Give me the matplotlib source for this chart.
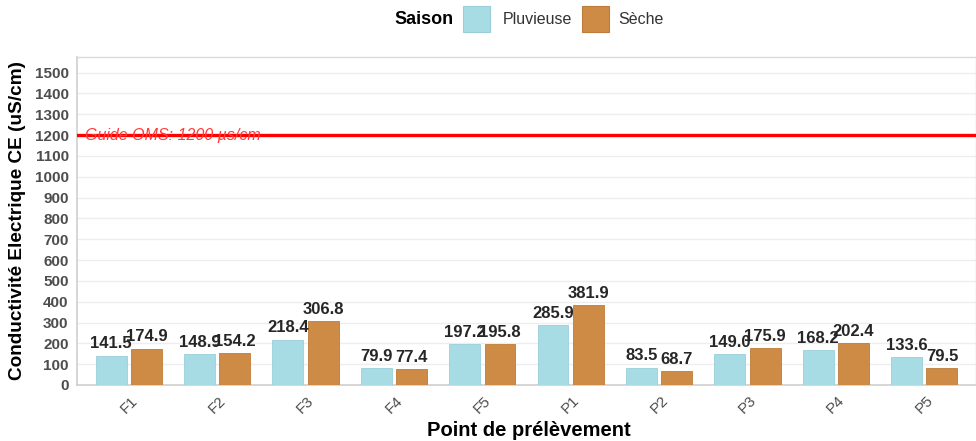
import matplotlib
matplotlib.use("Agg")
import matplotlib.pyplot as plt
import numpy as np
from matplotlib.patches import Rectangle

plt.rcParams['font.family'] = ['Liberation Sans', 'DejaVu Sans']

points = ["F1", "F2", "F3", "F4", "F5", "P1", "P2", "P3", "P4", "P5"]
pluvieuse = [141.5, 148.9, 218.4, 79.9, 197.2, 285.9, 83.5, 149.0, 168.2, 133.6]
seche = [174.9, 154.2, 306.8, 77.4, 195.8, 381.9, 68.7, 175.9, 202.4, 79.5]
yticks = list(range(0, 1600, 100))
oms_value = 1200

c_pluv = "#A8DCE5"
c_sec = "#CD8B45"
e_pluv = "#9ACFD9"
e_sec = "#BE7C3A"

W, H = 976, 441
fig = plt.figure(figsize=(W / 100, H / 100), dpi=100)
ax = fig.add_axes([0.0789, 0.127, 0.9211, 0.7444])

x = np.arange(len(points))
w = 0.35
off = 0.2
ax.bar(x - off, pluvieuse, width=w, color=c_pluv, edgecolor=e_pluv, linewidth=0.6, zorder=3)
ax.bar(x + off, seche, width=w, color=c_sec, edgecolor=e_sec, linewidth=0.6, zorder=3)

for xi, v in zip(x - off, pluvieuse):
    ax.text(xi, v + 20, f"{v:.1f}", ha="center", va="bottom", fontsize=12,
            fontweight="bold", color="#262626", zorder=5)
for xi, v in zip(x + off, seche):
    ax.text(xi, v + 20, f"{v:.1f}", ha="center", va="bottom", fontsize=12,
            fontweight="bold", color="#262626", zorder=5)

ax.axhline(oms_value, color="#FF0000", linewidth=2.4, zorder=4)
ax.text(-0.49, oms_value, "Guide OMS: 1200 µs/cm", color="#FF3B3B", fontsize=11.5,
        fontstyle="italic", ha="left", va="center", zorder=5)

ax.set_xlim(-0.585, 9.585)
ax.set_ylim(0, 1576)
ax.set_yticks(yticks)
ax.set_yticklabels([str(t) for t in yticks], fontsize=11, fontweight="bold", color="#4D4D4D")
ax.set_xticks(x)
ax.set_xticklabels(points, rotation=45, fontsize=11, color="#4D4D4D", ha="center")
ax.tick_params(axis="y", length=0, pad=6)
ax.tick_params(axis="x", length=0, pad=6)

ax.grid(axis="y", color="#EEEEEE", linewidth=1.0, zorder=0)
ax.set_axisbelow(True)
for s in ["top", "right"]:
    ax.spines[s].set_color("#DADADA")
    ax.spines[s].set_linewidth(1.0)
for s in ["left", "bottom"]:
    ax.spines[s].set_color("#CFCFCF")
    ax.spines[s].set_linewidth(1.2)

fig.text(18 / W, 1 - 220 / H, "Conductivité Electrique CE (uS/cm)", fontsize=13.7,
         fontweight="bold", color="black", rotation=90, ha="center", va="center")
fig.text(529 / W, 1 - 431 / H, "Point de prélèvement", fontsize=14.5,
         fontweight="bold", color="black", ha="center", va="center")

# legend (manual, ggplot style: title left of entries)
ly = 1 - 19 / H
fig.text(424 / W, ly, "Saison", fontsize=13, fontweight="bold", ha="center", va="center",
         color="black")
sq_h = 26 / H
for x0, x1, fc, ec, lab, tx in [(463, 490, c_pluv, e_pluv, "Pluvieuse", 503),
                                (582, 609, c_sec, e_sec, "Sèche", 618)]:
    fig.add_artist(Rectangle((x0 / W, ly - sq_h / 2), (x1 - x0) / W, sq_h,
                             transform=fig.transFigure, facecolor=fc, edgecolor=ec,
                             linewidth=0.8))
    fig.text(tx / W, ly, lab, fontsize=11.5, ha="left", va="center", color="#333333")

fig.savefig("out.png", dpi=100)
